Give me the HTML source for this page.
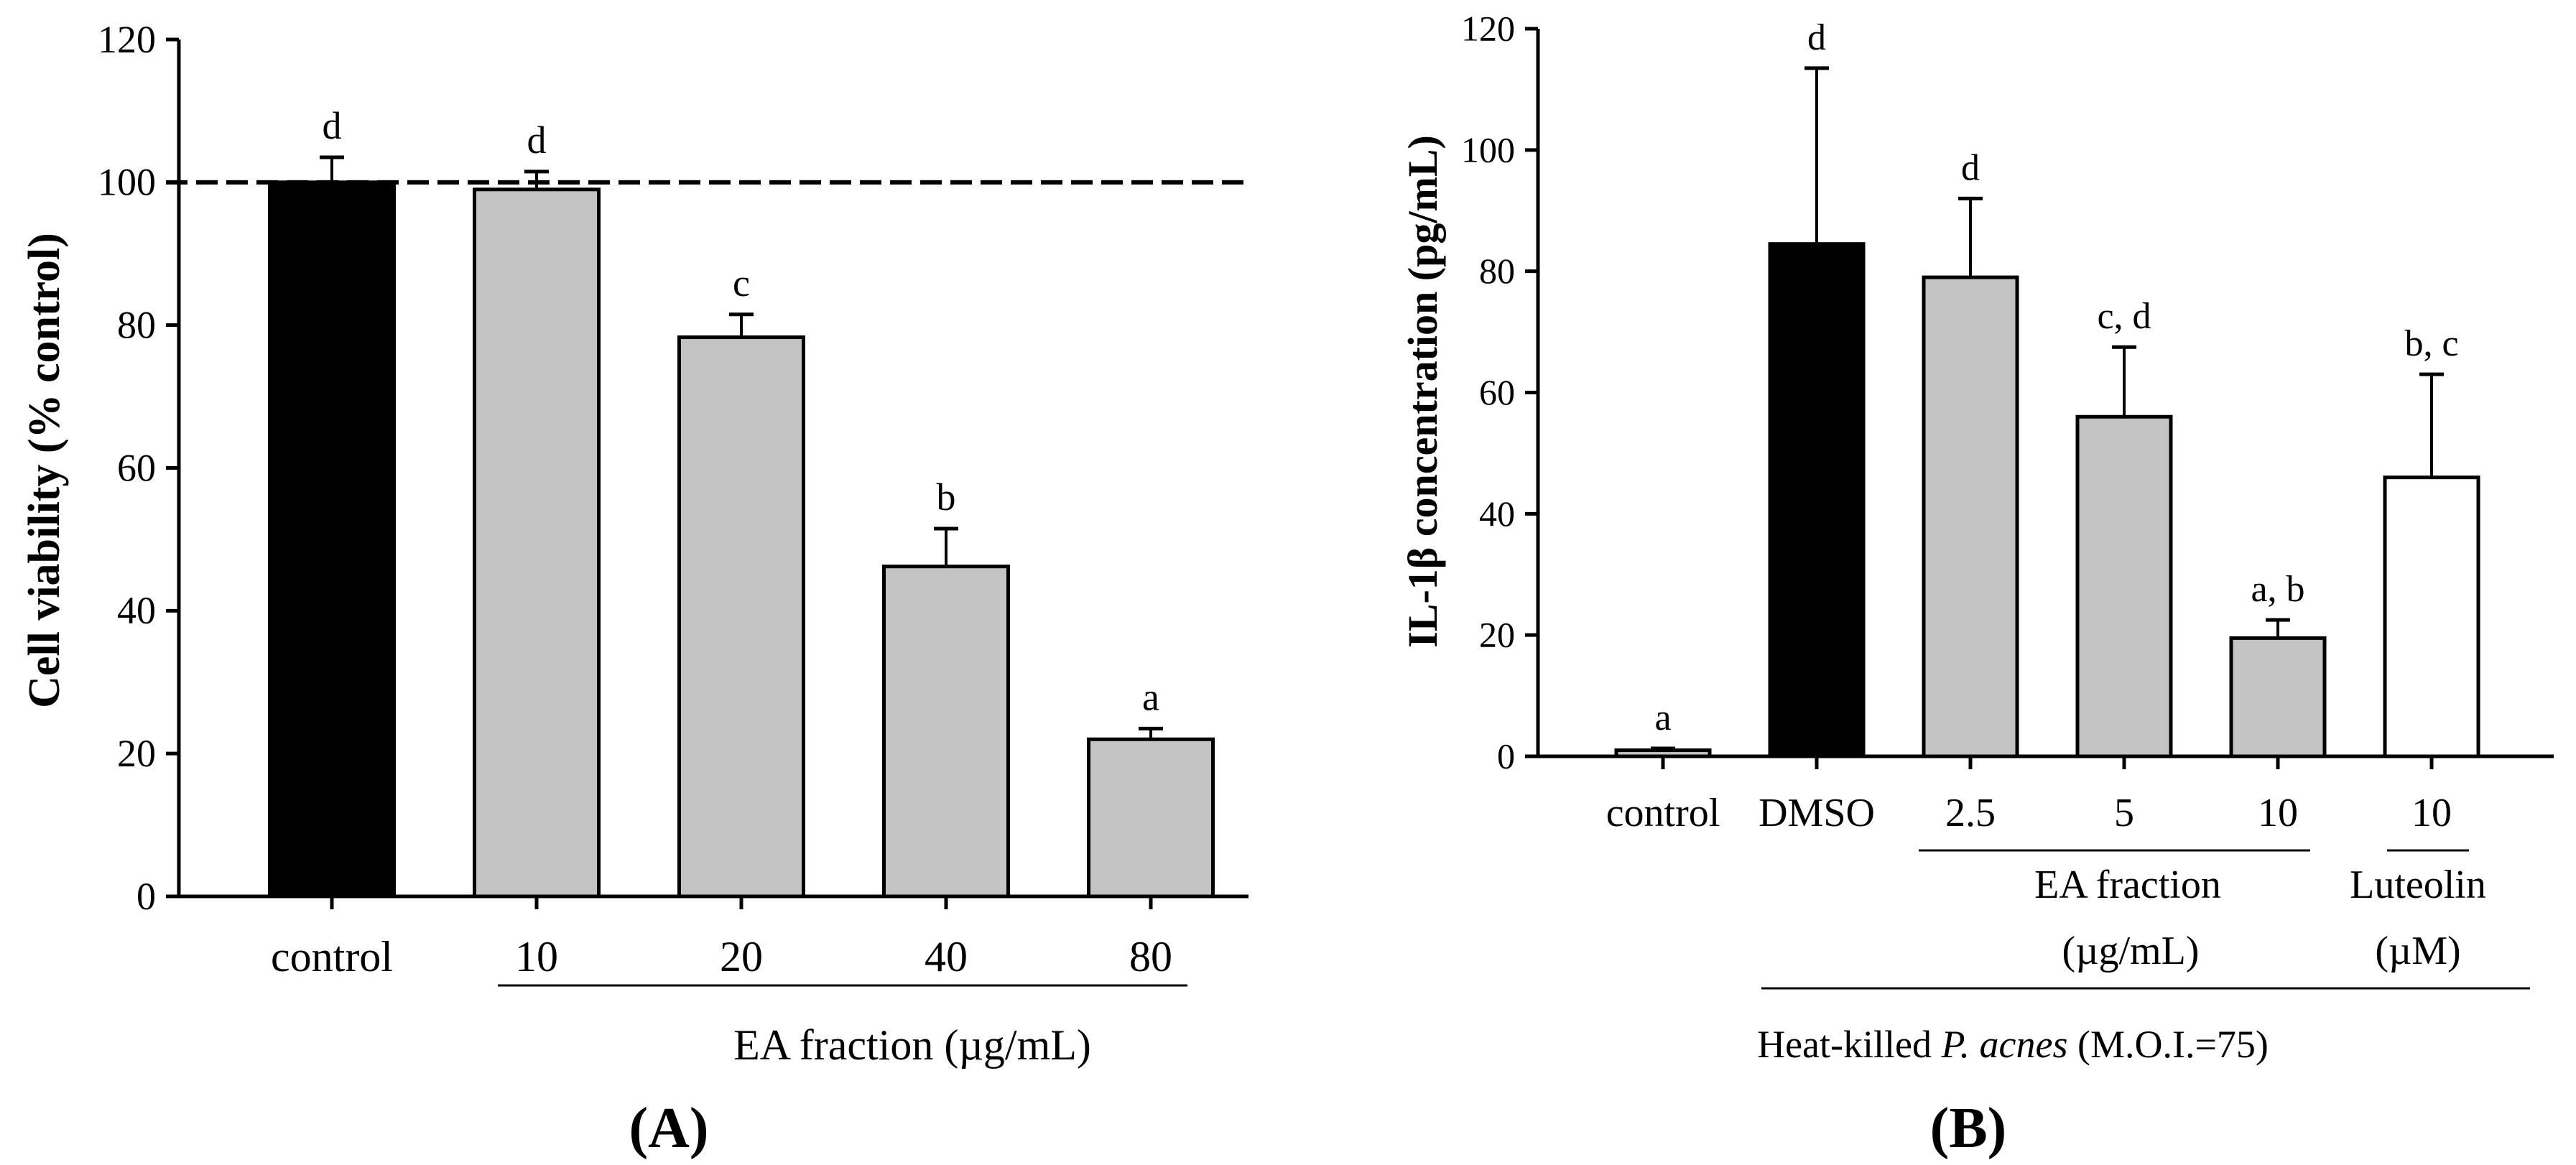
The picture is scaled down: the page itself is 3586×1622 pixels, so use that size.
<!DOCTYPE html>
<html><head><meta charset="utf-8"><style>
html,body{margin:0;padding:0;background:#fff;}
svg{display:block;font-family:"Liberation Serif","DejaVu Serif",serif;}
</style></head><body>
<svg id="fig" width="3586" height="1622" viewBox="0 0 3586 1622" xmlns="http://www.w3.org/2000/svg">
<g id="panelA"></g>
<g id="panelB"></g>
</svg>
<script>
// Panel A data
const aCategories = ["control", "10", "20", "40", "80"];
const aValues = [100, 99, 78.3, 46.2, 22];
const aErrors = [3.5, 2.5, 3.2, 5.3, 1.5];
const aLetters = ["d", "d", "c", "b", "a"];
const aFills = ["#000", "#c3c3c3", "#c3c3c3", "#c3c3c3", "#c3c3c3"];
const aTicks = [0, 20, 40, 60, 80, 100, 120];
const aRefLine = 100;
// Panel B data
const bCategories = ["control", "DMSO", "2.5", "5", "10", "10"];
const bValues = [1, 84.5, 79, 56, 19.5, 46];
const bErrors = [0.3, 29, 13, 11.5, 3, 17];
const bLetters = ["a", "d", "d", "c, d", "a, b", "b, c"];
const bFills = ["#c3c3c3", "#000", "#c3c3c3", "#c3c3c3", "#c3c3c3", "#fff"];
const bTicks = [0, 20, 40, 60, 80, 100, 120];

const NS = "http://www.w3.org/2000/svg";
function mk(parent, tag, attrs, text){
  const e = document.createElementNS(NS, tag);
  for (const k in attrs) e.setAttribute(k, attrs[k]);
  if (text !== undefined) e.textContent = text;
  parent.appendChild(e);
  return e;
}

function drawPanel(g, cfg, cats, vals, errs, letters, fills, ticks){
  const y = v => cfg.y0 - (v - 0) / 120 * (cfg.y0 - cfg.y120);
  const x = i => cfg.c0 + i * cfg.step;
  let e = mk(g, "line", {x1: cfg.ax, y1: y(120), x2: cfg.ax, y2: cfg.y0 + 2, stroke: "#000", "stroke-width": 5});
  
  
  e = mk(g, "line", {x1: cfg.ax - 18, y1: cfg.y0, x2: cfg.xend, y2: cfg.y0, stroke: "#000", "stroke-width": 5});
  
  
  ticks.forEach(t => {
    e = mk(g, "line", {x1: cfg.ax - 18, y1: y(t), x2: cfg.ax, y2: y(t), stroke: "#000", "stroke-width": 5});
    
    
    e = mk(g, "text", {x: cfg.ax - 32, y: y(t) + cfg.tickFs * 0.33, "text-anchor": "end", "font-size": cfg.tickFs}, String(t));
    
    
  });
  if (cfg.ref !== undefined){
    e = mk(g, "line", {x1: cfg.ax - 18, y1: y(cfg.ref), x2: cfg.xend, y2: y(cfg.ref), stroke: "#000", "stroke-width": 6, "stroke-dasharray": "30 12"});
    
    
  }
  cats.forEach((c, i) => {
    const cx = x(i), top = y(vals[i]), et = y(vals[i] + errs[i]);
    e = mk(g, "line", {x1: cx, y1: et, x2: cx, y2: top, stroke: "#000", "stroke-width": 4});
    
    
    e = mk(g, "line", {x1: cx - 17, y1: et, x2: cx + 17, y2: et, stroke: "#000", "stroke-width": 5});
    
    
    e = mk(g, "rect", {x: cx - cfg.bw / 2, y: top, width: cfg.bw, height: cfg.y0 - top, fill: fills[i], stroke: "#000", "stroke-width": 5});
    
    
    e = mk(g, "text", {x: cx, y: et - 26, "text-anchor": "middle", "font-size": cfg.letFs}, letters[i]);
    
    
    e = mk(g, "line", {x1: cx, y1: cfg.y0, x2: cx, y2: cfg.y0 + 18, stroke: "#000", "stroke-width": 5});
    
    
    e = mk(g, "text", {x: cx, y: cfg.catY, "text-anchor": "middle", "font-size": cfg.catFs}, c);
    
    
  });
}

const gA = document.getElementById("panelA");
drawPanel(gA, {ax: 249, y0: 1248, y120: 55, c0: 462, step: 285, bw: 173, xend: 1738, ref: aRefLine, tickFs: 54, letFs: 54, catFs: 60, catY: 1352}, aCategories, aValues, aErrors, aLetters, aFills, aTicks);
const gB = document.getElementById("panelB");
drawPanel(gB, {ax: 2141, y0: 1053, y120: 40, c0: 2315, step: 214, bw: 130, xend: 3555, tickFs: 50, letFs: 52, catFs: 56, catY: 1150}, bCategories, bValues, bErrors, bLetters, bFills, bTicks);

let t;
t = mk(gA, "text", {transform: "translate(82,655) rotate(-90)", "text-anchor": "middle", "font-size": 62, "font-weight": "bold"}, "Cell viability (% control)");


t = mk(gA, "line", {x1: 693, y1: 1372, x2: 1653, y2: 1372, stroke: "#000", "stroke-width": 3});


t = mk(gA, "text", {x: 1270, y: 1475, "text-anchor": "middle", "font-size": 60}, "EA fraction (µg/mL)");


t = mk(gA, "text", {x: 931, y: 1597, "text-anchor": "middle", "font-size": 80, "font-weight": "bold"}, "(A)");


t = mk(gB, "text", {transform: "translate(2000,545) rotate(-90)", "text-anchor": "middle", "font-size": 58, "font-weight": "bold"}, "IL-1β concentration (pg/mL)");


t = mk(gB, "line", {x1: 2671, y1: 1184, x2: 3216, y2: 1184, stroke: "#000", "stroke-width": 3});


t = mk(gB, "line", {x1: 3323, y1: 1184, x2: 3437, y2: 1184, stroke: "#000", "stroke-width": 3});


t = mk(gB, "text", {x: 2962, y: 1250, "text-anchor": "middle", "font-size": 56}, "EA fraction");


t = mk(gB, "text", {x: 2966, y: 1342, "text-anchor": "middle", "font-size": 56}, "(µg/mL)");


t = mk(gB, "text", {x: 3366, y: 1250, "text-anchor": "middle", "font-size": 56}, "Luteolin");


t = mk(gB, "text", {x: 3366, y: 1342, "text-anchor": "middle", "font-size": 56}, "(µM)");


t = mk(gB, "line", {x1: 2452, y1: 1376, x2: 3522, y2: 1376, stroke: "#000", "stroke-width": 3});


t = mk(gB, "text", {x: 2802, y: 1472, "text-anchor": "middle", "font-size": 54});


mk(t, "tspan", {}, "Heat-killed ");
mk(t, "tspan", {"font-style": "italic"}, "P. acnes");
mk(t, "tspan", {}, " (M.O.I.=75)");
t = mk(gB, "text", {x: 2740, y: 1597, "text-anchor": "middle", "font-size": 80, "font-weight": "bold"}, "(B)");


</script>
</body></html>
